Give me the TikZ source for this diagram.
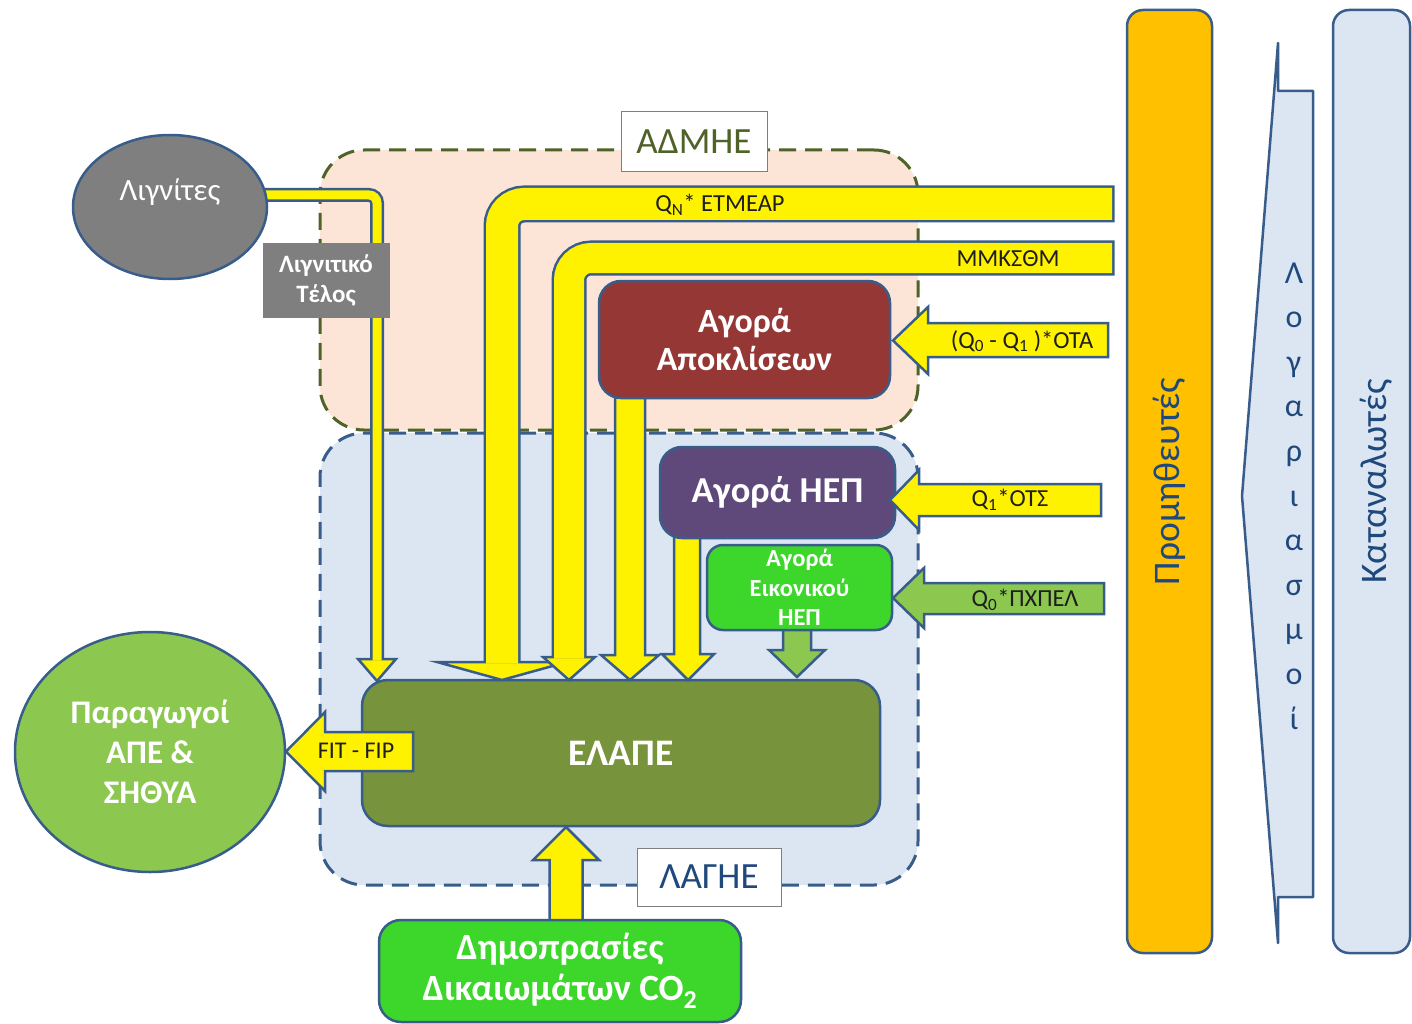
\documentclass[tikz,border=0pt]{standalone}
\usepackage{fontspec}
\setmainfont{Carlito}
\usetikzlibrary{shapes.geometric}
\definecolor{edgeblue}{HTML}{385D8A}
\definecolor{peach}{HTML}{FCE5D6}
\definecolor{paleblue}{HTML}{DCE6F2}
\definecolor{olivebox}{HTML}{77933C}
\definecolor{olivetext}{HTML}{4F6228}
\definecolor{navytext}{HTML}{1F497D}
\definecolor{redbox}{HTML}{953735}
\definecolor{purplebox}{HTML}{5F497A}
\definecolor{brightgreen}{HTML}{3DD62A}
\definecolor{lightgreen}{HTML}{8CC850}
\definecolor{graybox}{HTML}{7F7F7F}
\definecolor{orangebox}{HTML}{FFC000}
\definecolor{arrowtext}{HTML}{1E1E1E}
\tikzset{
  regionbox/.style={shape=rectangle, line width=3pt, dash pattern=on 17pt off 9pt, rounded corners=44pt, inner sep=0pt},
  labelbox/.style={draw=graybox, line width=1pt, fill=white, inner sep=0pt, font=\fontsize{37}{40}\selectfont},
  market/.style={draw=edgeblue, line width=2.5pt, rounded corners=22pt, inner sep=0pt, text=white, align=center},
  blockarrow/.style={draw=edgeblue, line width=2.5pt, line join=miter},
  yellowarrow/.style={blockarrow, fill=yellow},
  greenarrow/.style={blockarrow, fill=lightgreen},
  arrowlabel/.style={text=arrowtext, font=\fontsize{24.5}{28}\selectfont, inner sep=0pt},
  bandout/.style={draw=edgeblue, line cap=butt, rounded corners=22pt},
  bandin/.style={draw=yellow, line cap=butt, rounded corners=22pt},
  panel/.style={rotate=90, draw=edgeblue, line width=2.5pt, rounded corners=16pt, minimum width=943pt, inner sep=0pt, text=navytext, font=\fontsize{37.5}{40}\selectfont}
}
\begin{document}
\begin{tikzpicture}[x=1pt,y=-1pt]
\useasboundingbox (0,0) rectangle (1412,1024);

% regions
\node[regionbox, draw=edgeblue, fill=paleblue, minimum width=598pt, minimum height=452pt] (lagieregion) at (619,659) {};
\node[regionbox, draw=olivetext, fill=peach, minimum width=598pt, minimum height=280pt] (admieregion) at (619,290) {};
\node[labelbox, text=olivetext, minimum width=146pt, minimum height=60pt] (admielabel) at (694,142) {ΑΔΜΗΕ};
\node[labelbox, text=navytext, minimum width=144pt, minimum height=58pt] (lagielabel) at (709,877) {ΛΑΓΗΕ};

% ELAPE
\node[market, fill=olivebox, minimum width=518pt, minimum height=146pt, rounded corners=26pt, font=\bfseries\fontsize{37.5}{40}\selectfont] (elape) at (621,753) {ΕΛΑΠΕ};

% lignite arrow
\draw[yellowarrow] (358,659) -- (377,681) -- (396,659) -- cycle;
\draw[bandout, line width=14pt, rounded corners=8pt] (250,195) -- (377,195) -- (377,659);
\draw[bandin, line width=9pt, rounded corners=8pt] (250,195) -- (377,195) -- (377,660.5);
\node[ellipse, fill=graybox, draw=edgeblue, line width=2.5pt, minimum width=194pt, minimum height=144pt, inner sep=0pt, text=white, font=\fontsize{31}{34}\selectfont] (lignite) at (170,207) {\raisebox{15pt}[\height][\depth]{Λιγνίτες}};
\node[fill=graybox, minimum width=127pt, minimum height=75pt, inner sep=0pt, text=white, align=center, font=\bfseries\fontsize{25}{30}\selectfont] (lignitefee) at (326,280.5) {Λιγνιτικό\\Τέλος};

% band A : QN* ETMEAR
\draw[yellowarrow] (437,662) -- (502,680) -- (567,662) -- cycle;
\draw[bandout, line width=37pt] (1114.5,204) -- (502,204) -- (502,662);
\draw[bandin, line width=32pt] (1112,204) -- (502,204) -- (502,663.5);
\node[arrowlabel] (etmear) at (720,205) {Q\textsubscript{N}* ΕΤΜΕΑΡ};

% band B : MMKSThM
\draw[yellowarrow] (543,657) -- (569,680) -- (595,657) -- cycle;
\draw[bandout, line width=35pt] (1114.5,258) -- (569,258) -- (569,657);
\draw[bandin, line width=30pt] (1112,258) -- (569,258) -- (569,658.5);
\node[arrowlabel] (mmksthm) at (1008,259) {ΜΜΚΣΘΜ};

% straight arrows into ELAPE
\draw[yellowarrow] (615,395) -- (615,655) -- (601,655) -- (630,680) -- (659,655) -- (645,655) -- (645,395) -- cycle;
\draw[yellowarrow] (674,535) -- (674,654) -- (662,654) -- (688,680) -- (714,654) -- (700,654) -- (700,535) -- cycle;
\draw[greenarrow] (783,627) -- (783,650) -- (769,650) -- (797,677) -- (825,650) -- (811,650) -- (811,627) -- cycle;

% market boxes
\node[market, fill=redbox, minimum width=291pt, minimum height=117pt, font=\bfseries\fontsize{34}{38}\selectfont] (agoraap) at (744.5,339.5) {Αγορά\\Αποκλίσεων};
\node[market, fill=purplebox, minimum width=235pt, minimum height=91pt, font=\bfseries\fontsize{36.5}{40}\selectfont] (agorahep) at (777.5,492.5) {Αγορά ΗΕΠ};
\node[market, fill=brightgreen, minimum width=185pt, minimum height=85pt, rounded corners=16pt, font=\bfseries\fontsize{24.5}{29.5}\selectfont] (eikon) at (799.5,587.5) {Αγορά\\Εικονικού\\ΗΕΠ};

% arrows from the right
\draw[yellowarrow] (1108,323) -- (928,323) -- (928,307) -- (893,340.5) -- (928,374) -- (928,357) -- (1108,357) -- cycle;
\node[arrowlabel] (ota) at (1022,341) {(Q\textsubscript{0} - Q\textsubscript{1} )*ΟΤΑ};
\draw[yellowarrow] (1101,484) -- (919,484) -- (919,470) -- (890,500) -- (919,530) -- (919,516) -- (1101,516) -- cycle;
\node[arrowlabel] (ots) at (1010,500) {Q\textsubscript{1}*ΟΤΣ};
\draw[greenarrow] (1104,583) -- (924,583) -- (924,568) -- (893,598) -- (924,628) -- (924,614) -- (1104,614) -- cycle;
\node[arrowlabel] (pxpel) at (1025,600) {Q\textsubscript{0}*ΠΧΠΕΛ};

% producers and FIT-FIP
\node[ellipse, fill=lightgreen, draw=edgeblue, line width=2.5pt, minimum width=270pt, minimum height=240pt, inner sep=0pt, text=white, align=center, font=\bfseries\fontsize{33}{40}\selectfont] (producers) at (150,752) {Παραγωγοί\\ΑΠΕ \&\\ΣΗΘΥΑ};
\draw[yellowarrow] (413,732) -- (325,732) -- (325,712) -- (286,751.5) -- (325,791) -- (325,771) -- (413,771) -- cycle;
\node[arrowlabel, font=\fontsize{24}{28}\selectfont] (fitfip) at (356,751) {FIT - FIP};

% auctions
\draw[yellowarrow] (549.5,925) -- (549.5,860) -- (533,860) -- (566,827) -- (599,860) -- (582.5,860) -- (582.5,925) -- cycle;
\node[market, fill=brightgreen, minimum width=362pt, minimum height=102pt, font=\bfseries\fontsize{37}{41}\selectfont] (auction) at (560,971) {Δημοπρασίες\\Δικαιωμάτων CO\textsubscript{2}};

% right panels
\node[panel, fill=orangebox, minimum height=85pt] (suppliers) at (1169.5,481.5) {Προμηθευτές};
\draw[draw=edgeblue, fill=paleblue, line width=2.5pt, line join=round] (1278,43) -- (1242,496) -- (1278,943) -- (1278,897) -- (1313,897) -- (1313,91) -- (1278,91) -- cycle;
\foreach \ch [count=\i from 0] in {Λ,ο,γ,α,ρ,ι,α,σ,μ,ο,ί}
  \node[anchor=base, inner sep=0pt, text=navytext, font=\fontsize{32}{36}\selectfont] (bill\i) at (1294,{283+\i*44.6}) {\ch};
\node[panel, fill=paleblue, minimum height=77pt] (consumers) at (1371.5,481.5) {\raisebox{-5pt}[\height][\depth]{Καταναλωτές}};
\end{tikzpicture}
\end{document}
